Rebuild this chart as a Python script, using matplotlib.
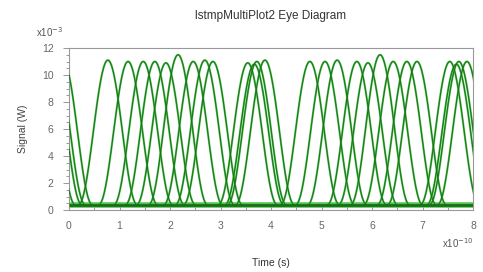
import numpy as np
import matplotlib
matplotlib.use("Agg")
import matplotlib.pyplot as plt
from matplotlib.ticker import MultipleLocator

plt.rcParams['font.family'] = ['Liberation Sans', 'DejaVu Sans']

# pulse peak times (x1e-10 s) and peak levels (x1e-3 W)
pulse_times = [-0.46, -0.33, -0.26, -0.12, 0.77, 1.17, 1.47, 1.70, 1.92, 2.16,
               2.46, 2.69, 2.85, 3.54, 3.67, 3.72, 3.88, 4.77, 5.07, 5.31,
               5.70, 5.92, 6.16, 6.42, 6.69, 6.89, 7.54, 7.67, 7.72, 7.88]
pulse_peaks = [11.0, 11.0, 10.9, 11.1, 11.1, 11.0, 11.0, 11.0, 10.9, 11.5,
               11.0, 11.1, 11.0, 10.9, 10.8, 11.0, 11.1, 11.0, 11.0, 11.1,
               11.0, 10.9, 11.5, 11.0, 11.0, 11.0, 11.0, 10.8, 11.0, 11.0]
pulse_halfwidth = 0.58   # x1e-10 s, peak to foot
baseline_level = 0.4     # x1e-3 W

x_ticks = [0, 1, 2, 3, 4, 5, 6, 7, 8]
y_ticks = [0, 2, 4, 6, 8, 10, 12]

W, H = 483, 272
fig = plt.figure(figsize=(W / 100, H / 100), dpi=100, facecolor="white")
ax = fig.add_axes([69 / W, 1 - 210 / H, (473 - 69) / W, (210 - 48) / H])

dark = "#1a6e1a"
light = "#52c452"

# baseline band
ax.plot([x_ticks[0], x_ticks[-1]], [baseline_level, baseline_level],
        color=light, lw=4.0, solid_capstyle="butt", zorder=2)
ax.plot([x_ticks[0], x_ticks[-1]], [baseline_level, baseline_level],
        color=dark, lw=2.0, solid_capstyle="butt", zorder=3)

for tc, pk in zip(pulse_times, pulse_peaks):
    t = np.linspace(tc - pulse_halfwidth, tc + pulse_halfwidth, 80)
    v = baseline_level + (pk - baseline_level) * np.cos(np.pi * (t - tc) / (2 * pulse_halfwidth)) ** 2
    ax.plot(t, v, color=light, lw=1.5, zorder=2)
    ax.plot(t, v, color=dark, lw=0.7, zorder=3)

ax.set_xlim(x_ticks[0], x_ticks[-1])
ax.set_ylim(y_ticks[0], y_ticks[-1])
ax.set_xticks(x_ticks)
ax.set_yticks(y_ticks)
ax.xaxis.set_minor_locator(MultipleLocator(0.5))
ax.yaxis.set_minor_locator(MultipleLocator(0.5))
ax.tick_params(axis="both", which="both", colors="#888888", labelcolor="#666666",
               labelsize=7.5, width=0.6)
ax.tick_params(axis="x", which="major", direction="in", length=4, pad=8)
ax.tick_params(axis="x", which="minor", direction="in", length=2)
ax.tick_params(axis="y", which="major", direction="out", length=4, pad=7)
ax.tick_params(axis="y", which="minor", direction="out", length=2)
for s in ax.spines.values():
    s.set_color("#999999")
    s.set_linewidth(0.8)

ax.set_title("lstmpMultiPlot2 Eye Diagram", fontsize=8.5, color="#333333", pad=21)
ax.set_xlabel("Time (s)", fontsize=7.5, color="#333333", labelpad=19)
ax.set_ylabel("Signal (W)", fontsize=7.5, color="#444444", labelpad=10)
fig.text(36 / W, 1 - 32 / H, r"x10$^{-3}$", fontsize=7, color="#555555", va="center")
fig.text(474 / W, 1 - 243 / H, r"x10$^{-10}$", fontsize=7, color="#555555",
         va="center", ha="right")

fig.savefig("out.png", dpi=100, facecolor="white")
